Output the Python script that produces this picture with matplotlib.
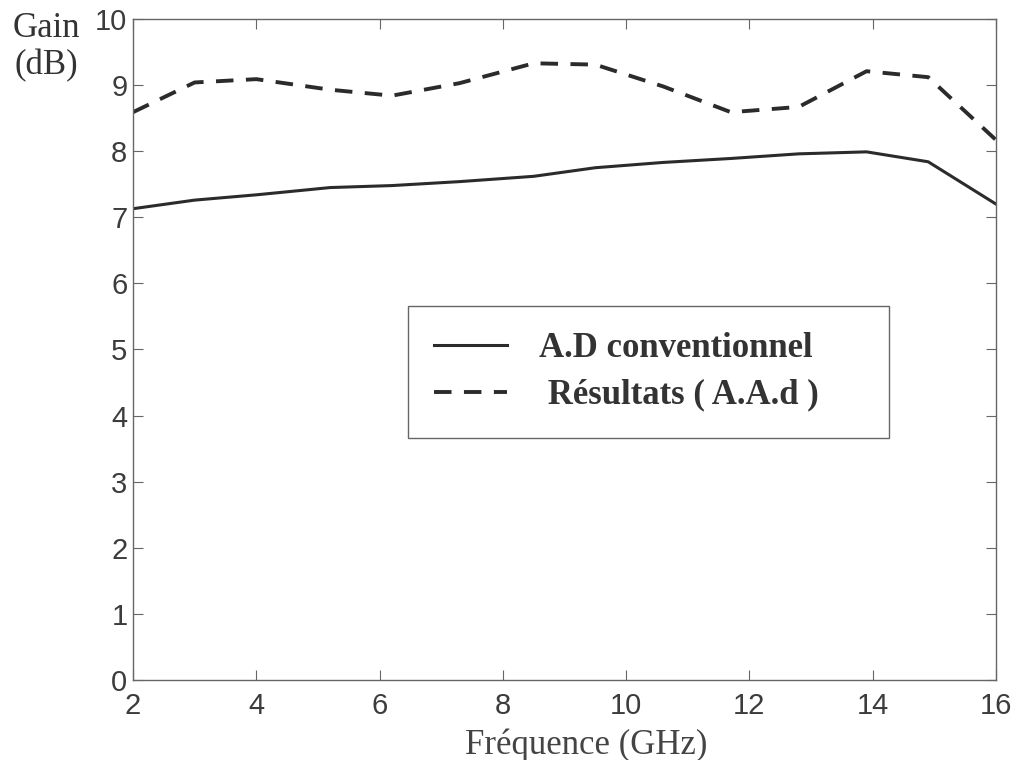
import matplotlib
matplotlib.use("Agg")
import matplotlib.pyplot as plt
import numpy as np

# =========================
# DATA
# =========================
freq = [2, 3, 4, 5.2, 6.2, 7.3, 8.5, 9.5, 10.6, 11.7, 12.8, 13.9, 14.9, 16]
gain_conv = [7.13, 7.26, 7.34, 7.45, 7.48, 7.54, 7.62, 7.75, 7.83, 7.89, 7.96, 7.99, 7.84, 7.20]
gain_aad = [8.59, 9.04, 9.09, 8.93, 8.84, 9.03, 9.33, 9.31, 8.98, 8.59, 8.67, 9.21, 9.12, 8.17]

labels = ["A.D conventionnel", " Résultats ( A.A.d )"]
xticks = [2, 4, 6, 8, 10, 12, 14, 16]
yticks = list(range(0, 11))

# =========================
# PLOT
# =========================
fig = plt.figure(figsize=(10.21, 7.6), dpi=100)
ax = fig.add_axes([133 / 1021, 80 / 760, 863 / 1021, 661 / 760])

line_col = "#2b2b2b"
ax.plot(freq, gain_conv, color=line_col, lw=2.2, label=labels[0])
ax.plot(freq, gain_aad, color=line_col, lw=2.8, dashes=(4.5, 3.2), label=labels[1])

ax.set_xlim(2, 16)
ax.set_ylim(0, 10)
ax.set_xticks(xticks)
ax.set_yticks(yticks)

tick_font = dict(family=["Liberation Sans", "DejaVu Sans"], size=21, color="#3c3c3c")
ax.set_xticklabels([str(t) for t in xticks], **tick_font)
ax.set_yticklabels([str(t) for t in yticks], **tick_font)
ax.tick_params(direction="in", length=7, width=0.8, color="#666666",
               top=True, right=True, pad=4)
ax.tick_params(axis="x", pad=9)
for s in ax.spines.values():
    s.set_color("#666666")
    s.set_linewidth(1.0)

serif = ["Liberation Serif", "DejaVu Serif"]
ax.set_xlabel("Fréquence (GHz)", family=serif, size=25, color="#444444")
ax.xaxis.set_label_coords(0.525, -0.073)

fig.text(46 / 1021, 1 - 12 / 760, "Gain\n(dB)", family=serif, size=25,
         color="#333333", ha="center", va="top", linespacing=1.15)

leg = ax.legend(loc="upper left", bbox_to_anchor=(0.319, 0.3625, 0.557, 0.2035),
                mode="expand", borderaxespad=0, fancybox=False, framealpha=1,
                edgecolor="#666666", handlelength=2.1, handletextpad=0.9,
                borderpad=0.75, labelspacing=0.4,
                prop=dict(family=serif, size=25, weight="bold"))
leg.get_frame().set_linewidth(1.0)
for t in leg.get_texts():
    t.set_color("#333333")

fig.savefig("out.png", dpi=100)
